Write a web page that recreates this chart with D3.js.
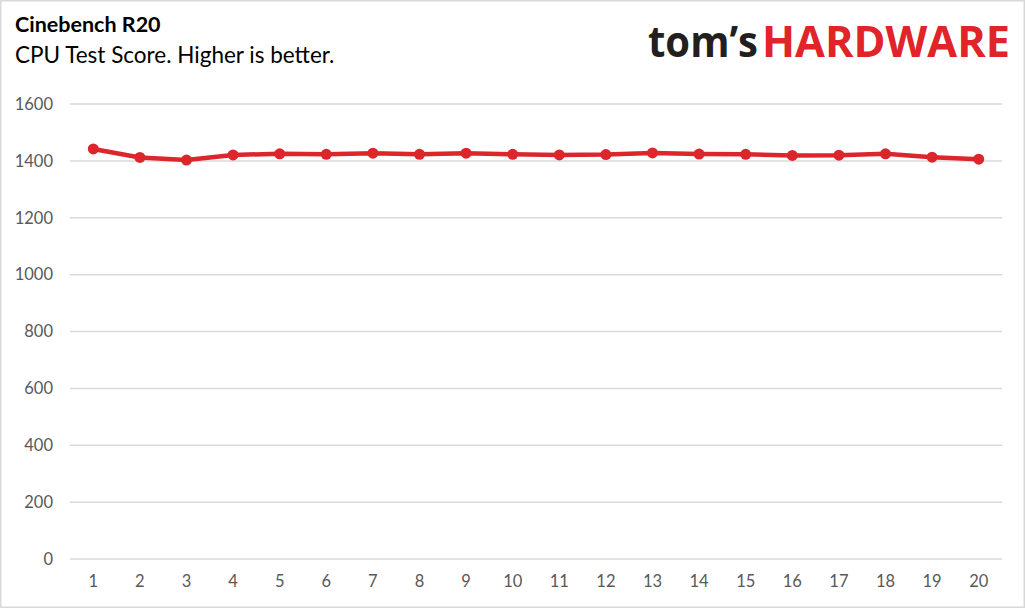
<!DOCTYPE html>
<html><head><meta charset="utf-8">
<script src="https://cdn.jsdelivr.net/npm/d3@7"></script>
<style>html,body{margin:0;padding:0;background:#fff;}svg{display:block;}</style>
</head><body>
<script>
const categories = ["1","2","3","4","5","6","7","8","9","10","11","12","13","14","15","16","17","18","19","20"];
const scores = [1442,1412,1403,1421,1425,1423,1427,1423,1427,1423,1421,1422,1428,1424,1423,1419,1420,1425,1413,1406];
const yTicks = [0,200,400,600,800,1000,1200,1400,1600];
const titleText = "Cinebench R20";
const subtitleText = "CPU Test Score. Higher is better.";

const W = 1026, H = 609;
const svg = d3.select("body").append("svg").attr("width", W).attr("height", H);
svg.append("rect").attr("x",0.75).attr("y",0.75).attr("width",W-2.5).attr("height",H-2.5)
  .attr("fill","#fff").attr("stroke","#d9d9d9").attr("stroke-width",1.5);

const font = "Lato, 'Open Sans', sans-serif";
svg.append("text").attr("x",15).attr("y",32).text(titleText)
  .attr("font-family",font).attr("font-weight","bold").attr("font-size",21.5).attr("fill","#000");
svg.append("text").attr("x",15).attr("y",63).text(subtitleText)
  .attr("font-family",font).attr("font-size",22.5).attr("fill","#000");

// logo
const logo = svg.append("text").attr("y",57).attr("font-family","'Open Sans', Lato, sans-serif").attr("font-weight","bold").attr("font-size",43);
logo.append("tspan").attr("x",648).text("tom\u2019s").attr("fill","#231f20").attr("textLength",110).attr("lengthAdjust","spacingAndGlyphs");
logo.append("tspan").attr("x",762).text("HARDWARE").attr("fill","#e1232a").attr("textLength",248).attr("lengthAdjust","spacingAndGlyphs");

const x = d3.scaleBand().domain(categories).range([70,1002]);
const y = d3.scaleLinear().domain([0,1600]).range([559,104]);

const grid = svg.append("g");
grid.selectAll("line").data(yTicks).join("line")
  .attr("x1",70).attr("x2",1002).attr("y1",d=>y(d)).attr("y2",d=>y(d))
  .attr("stroke","#d9d9d9").attr("stroke-width",1.5);

const yAxis = svg.append("g").attr("transform","translate(60,0)")
  .call(d3.axisLeft(y).tickValues(yTicks).tickFormat(d3.format("d")).tickSize(0).tickPadding(7));
yAxis.select(".domain").remove();
yAxis.selectAll("text").attr("font-family",font).attr("font-size",16.5).attr("fill","#595959");

const xAxis = svg.append("g").attr("transform","translate(0,572)")
  .call(d3.axisBottom(x).tickSize(0).tickPadding(3));
xAxis.select(".domain").remove();
xAxis.selectAll("text").attr("font-family",font).attr("font-size",16.5).attr("fill","#595959");

const data = categories.map((c,i)=>({c, v: scores[i]}));
const line = d3.line().x(d=>x(d.c)+x.bandwidth()/2).y(d=>y(d.v));
svg.append("path").datum(data).attr("d",line).attr("fill","none")
  .attr("stroke","#dc262b").attr("stroke-width",4.5).attr("stroke-linejoin","round");
svg.append("g").selectAll("circle").data(data).join("circle")
  .attr("cx",d=>x(d.c)+x.bandwidth()/2).attr("cy",d=>y(d.v)).attr("r",5.5).attr("fill","#dc262b");
</script>
</body></html>
